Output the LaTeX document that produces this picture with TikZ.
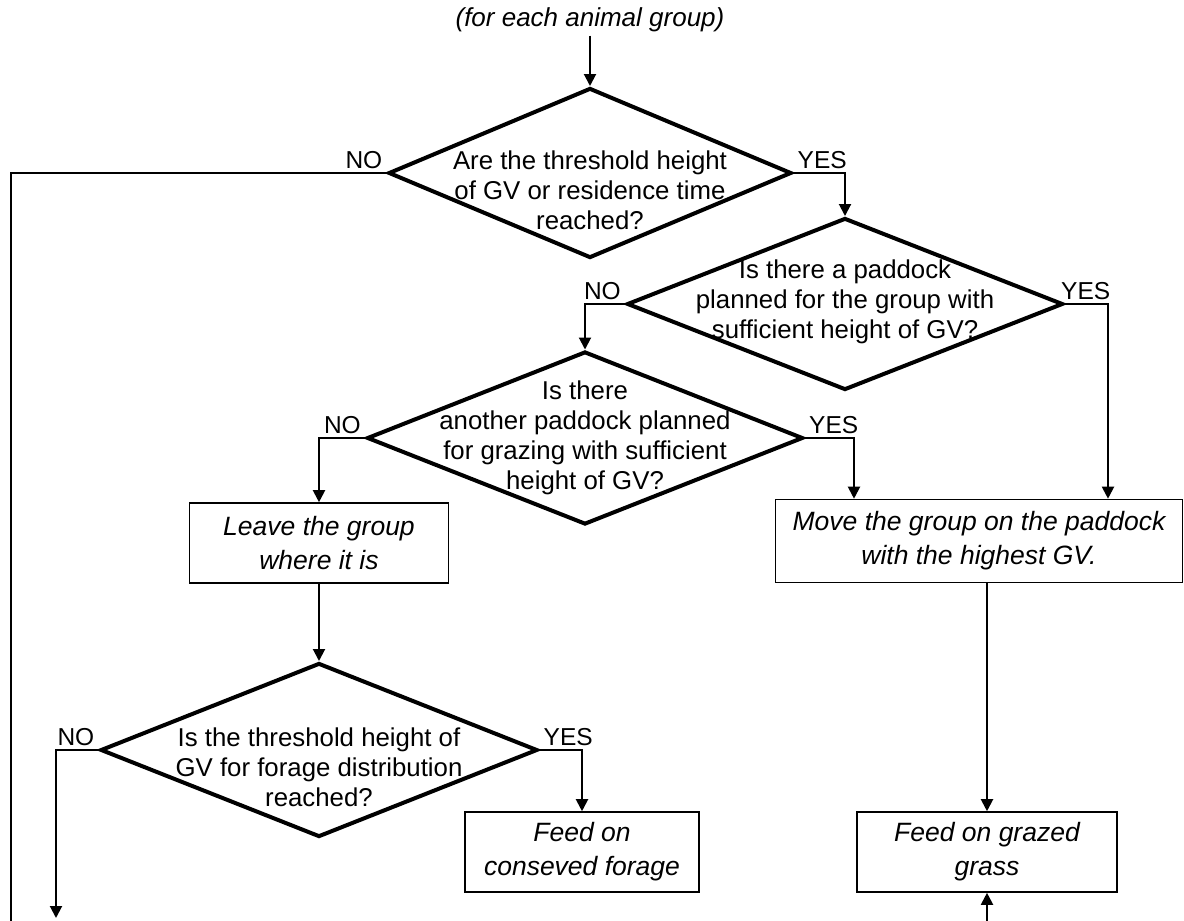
\documentclass[tikz,border=0pt]{standalone}
\usepackage{fontspec}
\setmainfont{Liberation Sans}
\usetikzlibrary{shapes.geometric,positioning,arrows.meta}

\begin{document}
\begin{tikzpicture}[
  x=1pt, y=-1pt,
  >={Triangle[length=12pt,width=12pt]},
  decision/.style={diamond, draw, line width=4pt, inner sep=0pt},
  question/.style={align=center, inner sep=0pt, font=\fontsize{25.8}{30}\selectfont},
  action/.style={rectangle, draw, line width=1.6pt, align=center, inner sep=0pt, minimum height=80pt, font=\fontsize{26.5}{34}\selectfont\itshape},
  answer/.style={inner sep=4pt, font=\fontsize{24.5}{28}\selectfont},
  link/.style={line width=2pt}
]
\useasboundingbox (0,0) rectangle (1184,921);

\node[font=\fontsize{26}{30}\selectfont\itshape] (start) at (590,20) {(for each animal group)};

% Decisions
\node[decision, minimum width=403pt, minimum height=170pt] (d1) at (590,173) {};
\node[question] (d1q) at ([yshift=-17pt]d1.center) {Are the threshold height\\of GV or residence time\\reached?};
\node[decision, minimum width=436pt, minimum height=172pt] (d2) at (845,304) {};
\node[question] (d2q) at ([yshift=2pt]d2.center) {Is there a paddock\\planned for the group with\\sufficient height of GV?};
\node[decision, minimum width=436pt, minimum height=173pt] (d3) at (585,438) {};
\node[question] (d3q) at (d3.center) {Is there\\another paddock planned\\for grazing with sufficient\\height of GV?};
\node[decision, minimum width=437pt, minimum height=174pt] (d4) at (319,750) {};
\node[question] (d4q) at ([yshift=-17pt]d4.center) {Is the threshold height of\\GV for forage distribution\\reached?};

% Actions
\node[action, minimum width=259pt] (leave) at (319,543) {Leave the group\\where it is};
\node[action, minimum width=407pt, minimum height=83pt] (move) at (979,541) {Move the group on the paddock\\with the highest GV.};
\node[action, minimum width=234pt] (forage) at (582,852) {Feed on\\conseved forage};
\node[action, minimum width=260pt] (grass) at (987,852) {Feed on grazed\\grass};

% Answers
\node[answer, above left=0pt and 0pt of d1.west] (no1) {NO};
\node[answer, above right=0pt and 0pt of d1.east] (yes1) {YES};
\node[answer, above left=0pt and 0pt of d2.west] (no2) {NO};
\node[answer, above right=0pt and -8pt of d2.east] (yes2) {YES};
\node[answer, above left=0pt and 0pt of d3.west] (no3) {NO};
\node[answer, above right=0pt and 0pt of d3.east] (yes3) {YES};
\node[answer, above left=0pt and 0pt of d4.west] (no4) {NO};
\node[answer, above right=0pt and 0pt of d4.east] (yes4) {YES};

% Loose ends
\coordinate (sink) at (11,921);
\coordinate (drop) at (56,918);
\coordinate (feed) at (987,921);

% Arrows
\draw[link,->] (start) -- (d1);
\draw[link] (d1.west) -| (sink);
\draw[link,->] (d1.east) -| (d2.north);
\draw[link,->] (d2.west) -| (d3.north);
\draw[link,->] (d2.east) -- ++(43,0) coordinate (y2) -- (y2 |- move.north);
\draw[link,->] (d3.west) -| (leave.north);
\draw[link,->] (d3.east) -- ++(49,0) coordinate (y3) -- (y3 |- move.north);
\draw[link,->] (leave) -- (d4);
\draw[link,->] (d4.west) -| (drop);
\draw[link,->] (d4.east) -| (forage.north);
\draw[link,->] (move.south -| grass.north) -- (grass.north);
\draw[link,->] (feed) -- (grass.south);
\end{tikzpicture}
\end{document}
